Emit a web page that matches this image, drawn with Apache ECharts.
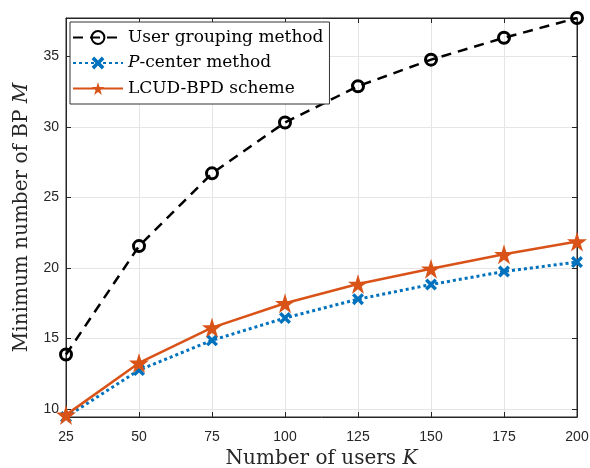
<!DOCTYPE html>
<html>
<head>
<meta charset="utf-8">
<script src="https://cdn.jsdelivr.net/npm/echarts@6/dist/echarts.min.js"></script>
<style>
  html, body { margin: 0; padding: 0; background: #fff; }
  #chart { width: 590px; height: 468px; }
</style>
</head>
<body>
<div id="chart"></div>
<script>
// data
const users = [25, 50, 75, 100, 125, 150, 175, 200];
const userGrouping = [13.87, 21.55, 26.7, 30.3, 32.87, 34.75, 36.3, 37.7];
const pCenter = [9.45, 12.77, 14.88, 16.46, 17.79, 18.83, 19.75, 20.42];
const lcudBpd = [9.6, 13.28, 15.78, 17.5, 18.87, 19.95, 20.97, 21.87];

const serif = "'DejaVu Serif', 'Liberation Serif', serif";
const sans = "'Liberation Sans', Arial, sans-serif";

const xMarker = 'path://M2,0 L5,3 L8,0 L10,2 L7,5 L10,8 L8,10 L5,7 L2,10 L0,8 L3,5 L0,2 Z';
const starMarker = 'path://M50,0 L61,35 L98,35 L68,57 L79,91 L50,70 L21,91 L32,57 L2,35 L39,35 Z';

function pairs(ys) {
  return users.map((x, i) => [x, ys[i]]);
}

const chart = echarts.init(document.getElementById('chart'));

const titleRich = {
  n: { fontFamily: serif, fontSize: 20, color: '#262626' },
  i: { fontFamily: serif, fontSize: 20, fontStyle: 'italic', color: '#262626' }
};

const option = {
  animation: false,
  backgroundColor: '#fff',
  grid: {
    left: 66, right: 13, top: 18, bottom: 51,
    outerBoundsMode: 'none',
    show: true, borderColor: '#262626', borderWidth: 1
  },
  legend: {
    orient: 'vertical',
    left: 70, top: 22,
    itemWidth: 50, itemHeight: 16, itemGap: 8.5,
    padding: [7, 6, 7, 2],
    backgroundColor: '#fff',
    borderColor: '#333', borderWidth: 1,
    textStyle: {
      fontFamily: serif, fontSize: 17, color: '#000',
      rich: { i: { fontFamily: serif, fontSize: 17, fontStyle: 'italic', color: '#000' } }
    },
    formatter: function (name) {
      if (name === 'P-center method') return '{i|P}-center method';
      return name;
    },
    data: ['User grouping method', 'P-center method', 'LCUD-BPD scheme']
  },
  xAxis: [{
    type: 'value',
    min: 25, max: 200, interval: 25,
    name: '{n|Number of users }{i|K}',
    nameLocation: 'middle', nameGap: 30,
    nameTextStyle: { rich: titleRich },
    axisLine: { show: true, lineStyle: { color: '#262626', width: 1 } },
    axisTick: { show: true, inside: true, length: 5, lineStyle: { color: '#262626' } },
    axisLabel: { fontFamily: sans, fontSize: 14, color: '#262626', margin: 13 },
    splitLine: { show: true, lineStyle: { color: '#e5e5e5', width: 1 } }
  }, {
    type: 'value', position: 'top',
    min: 25, max: 200, interval: 25,
    axisLine: { show: true, lineStyle: { color: '#262626' } },
    axisTick: { show: true, inside: true, length: 5, lineStyle: { color: '#262626' } },
    axisLabel: { show: false },
    splitLine: { show: false }
  }],
  yAxis: [{
    type: 'value',
    min: 9.45, max: 37.7,
    name: '{n|Minimum number of BP }{i|M}',
    nameLocation: 'middle', nameGap: 34, nameRotate: 90,
    nameTextStyle: { rich: titleRich },
    axisLine: { show: true, lineStyle: { color: '#262626', width: 1 } },
    axisTick: { show: true, inside: true, length: 5, lineStyle: { color: '#262626' } },
    axisLabel: {
      fontFamily: sans, fontSize: 14, color: '#262626', margin: 7,
      showMinLabel: false, showMaxLabel: false,
      formatter: v => (Math.abs(v % 5) < 1e-6 ? String(v) : '')
    },
    splitLine: { show: true, lineStyle: { color: '#e5e5e5', width: 1 } }
  }, {
    type: 'value', position: 'right',
    min: 9.45, max: 37.7,
    axisLine: { show: true, lineStyle: { color: '#262626' } },
    axisTick: { show: true, inside: true, length: 5, lineStyle: { color: '#262626' } },
    axisLabel: { show: false },
    splitLine: { show: false }
  }],
  series: [{
    name: 'User grouping method',
    type: 'line',
    data: pairs(userGrouping),
    symbol: 'circle', symbolSize: 11,
    lineStyle: { color: '#000', width: 2.5, type: [10, 7] },
    itemStyle: { color: 'rgba(255,255,255,0)', borderColor: '#000', borderWidth: 3 },
    z: 3
  }, {
    name: 'P-center method',
    type: 'line',
    data: pairs(pCenter),
    symbol: xMarker, symbolSize: 12,
    lineStyle: { color: '#0072BD', width: 3, type: [3, 3] },
    itemStyle: { color: '#0072BD' },
    z: 4
  }, {
    name: 'LCUD-BPD scheme',
    type: 'line',
    data: pairs(lcudBpd),
    symbol: starMarker, symbolSize: 20,
    lineStyle: { color: '#D95319', width: 2.5 },
    itemStyle: { color: '#D95319' },
    z: 5
  }]
};

chart.setOption(option);
window.addEventListener('resize', () => chart.resize());
</script>
</body>
</html>
